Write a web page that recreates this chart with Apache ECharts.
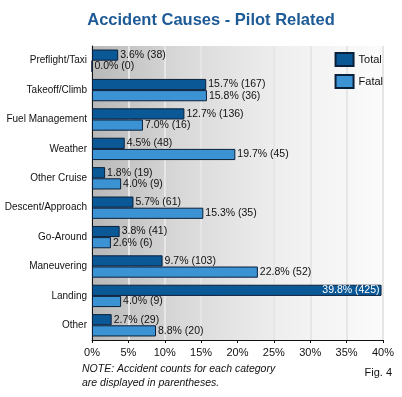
<!DOCTYPE html>
<html>
<head>
<meta charset="utf-8">
<script src="https://cdn.jsdelivr.net/npm/echarts@6/dist/echarts.min.js"></script>
<style>
  html, body { margin: 0; padding: 0; background: #fff; }
  #chart { width: 402px; height: 397px; }
</style>
</head>
<body>
<div id="chart"></div>
<script>
  // categories top to bottom
  const categories = ['Preflight/Taxi', 'Takeoff/Climb', 'Fuel Management', 'Weather', 'Other Cruise',
    'Descent/Approach', 'Go-Around', 'Maneuvering', 'Landing', 'Other']
  const totalPct = [3.6, 15.7, 12.7, 4.5, 1.8, 5.7, 3.8, 9.7, 39.8, 2.7]
  const totalCount = [38, 167, 136, 48, 19, 61, 41, 103, 425, 29]
  const fatalPct = [0.0, 15.8, 7.0, 19.7, 4.0, 15.3, 2.6, 22.8, 4.0, 8.8]
  const fatalCount = [0, 36, 16, 45, 9, 35, 6, 52, 9, 20]
  const xTicks = [0, 5, 10, 15, 20, 25, 30, 35, 40]

  const font = '"Liberation Sans", Arial, sans-serif'

  function labelOf(pcts, counts) {
    return function (p) {
      return pcts[p.dataIndex].toFixed(1) + '% (' + counts[p.dataIndex] + ')'
    }
  }

  const totalData = totalPct.map(function (v, i) {
    // the longest bar carries its label inside
    if (v > 35) {
      return { value: v, label: { position: 'insideRight', color: '#fff', distance: 2 } }
    }
    return v
  })

  const option = {
    animation: false,
    title: {
      text: 'Accident Causes - Pilot Related',
      left: 206,
      textAlign: 'center',
      top: 7,
      textStyle: { color: '#1d5a96', fontSize: 16.5, fontWeight: 'bold', fontFamily: font }
    },
    legend: {
      orient: 'vertical',
      right: 19,
      top: 52,
      padding: 0,
      icon: 'rect',
      itemWidth: 18,
      itemHeight: 13,
      itemGap: 7,
      textStyle: { color: '#111', fontSize: 11, fontFamily: font },
      data: ['Total', 'Fatal']
    },
    grid: {
      left: 92,
      right: 19,
      top: 46,
      bottom: 57,
      outerBoundsMode: 'none',
      show: true,
      borderWidth: 0,
      backgroundColor: {
        type: 'linear', x: 0, y: 0, x2: 1, y2: 0,
        colorStops: [
          { offset: 0, color: '#b8b8b8' },
          { offset: 0.3, color: '#d8d8d8' },
          { offset: 0.65, color: '#efefef' },
          { offset: 1, color: '#fbfbfb' }
        ]
      }
    },
    xAxis: {
      type: 'value',
      min: xTicks[0],
      max: xTicks[xTicks.length - 1],
      interval: 5,
      axisLine: { show: true, lineStyle: { color: '#111', width: 1 } },
      axisTick: { show: true, length: 3, lineStyle: { color: '#111' } },
      splitLine: { show: true, lineStyle: { color: '#e6e6e6', width: 2 } },
      axisLabel: {
        color: '#111', fontSize: 11, fontFamily: font, margin: 7,
        formatter: function (v) { return v + '%' }
      }
    },
    yAxis: {
      type: 'category',
      inverse: true,
      data: categories,
      axisLine: { show: true, lineStyle: { color: '#111', width: 1 } },
      axisTick: { show: false },
      axisLabel: { color: '#111', fontSize: 10, fontFamily: font, margin: 5 }
    },
    series: [
      {
        name: 'Total',
        type: 'bar',
        barGap: '0%',
        barCategoryGap: '24%',
        itemStyle: { color: '#0b5897', borderColor: '#0a1f3a', borderWidth: 1 },
        label: {
          show: true, position: 'right', distance: 2,
          color: '#111', fontSize: 10.5, fontFamily: font,
          formatter: labelOf(totalPct, totalCount)
        },
        data: totalData
      },
      {
        name: 'Fatal',
        type: 'bar',
        itemStyle: { color: '#3b93d3', borderColor: '#0a1f3a', borderWidth: 1 },
        label: {
          show: true, position: 'right', distance: 2,
          color: '#111', fontSize: 10.5, fontFamily: font,
          formatter: labelOf(fatalPct, fatalCount)
        },
        data: fatalPct
      }
    ],
    graphic: [
      {
        type: 'text', left: 82, top: 362,
        style: {
          text: 'NOTE: Accident counts for each category\nare displayed in parentheses.',
          fill: '#111', font: 'italic 10.5px ' + font, lineHeight: 14
        }
      },
      {
        type: 'text', right: 10, top: 367,
        style: { text: 'Fig. 4', fill: '#111', font: '11px ' + font }
      }
    ]
  }

  let myChart = echarts.init(document.getElementById('chart'))
  myChart.setOption(option)
</script>
</body>
</html>
